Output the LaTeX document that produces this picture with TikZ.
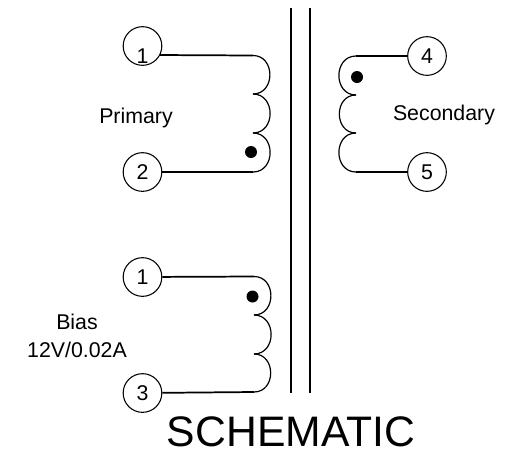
\documentclass[tikz,border=0pt]{standalone}
\usepackage{fontspec}
\setmainfont{Liberation Sans}
\usetikzlibrary{positioning}
\newcommand{\pinlow}[2]{\raisebox{#1}[0pt][0pt]{#2}}
\tikzset{
  pin/.style={circle,draw,line width=0.8pt,minimum size=29pt,inner sep=0pt,font=\fontsize{16}{16}\selectfont},
  lead/.style={line width=1.3pt},
  coil/.style={line width=0.9pt},
  core/.style={line width=1.6pt},
  spot/.style={circle,fill=black,minimum size=9pt,inner sep=0pt},
  lbl/.style={font=\fontsize{16}{21}\selectfont,align=center}
}

\begin{document}
\begin{tikzpicture}[x=0.75pt,y=-0.75pt]
  \useasboundingbox (0,0) rectangle (507,451);

  % core
  \coordinate (coreAtop) at (291,8);
  \coordinate (coreAbot) at (291,393);
  \coordinate (coreBtop) at (310,8);
  \coordinate (coreBbot) at (310,393);
  \draw [core] (coreAtop) -- (coreAbot);
  \draw [core] (coreBtop) -- (coreBbot);

  % primary
  \node [pin] (prim1) at (142.5,46) {\pinlow{-12.75pt}{1}};
  \node [pin] (prim2) at (142.5,172) {2};
  \coordinate (primA) at (253,55.5);
  \coordinate (primB) at (253,94);
  \coordinate (primC) at (253,133);
  \coordinate (primD) at (253,172);
  \draw [lead] (prim1.-27) -- (primA);
  \draw [lead] (prim2) -- (primD);
  \draw [coil] (primA) to [out=0,in=0,looseness=1.5] (primB);
  \draw [coil] (primB) to [out=0,in=0,looseness=1.5] (primC);
  \draw [coil] (primC) to [out=0,in=0,looseness=1.5] (primD);
  \node [spot] (primdot) at (251,152) {};
  \node [lbl] (primlbl) at (136,118) {Primary};

  % bias
  \node [pin] (bias1) at (142.5,277) {1};
  \node [pin] (bias3) at (142.5,393) {3};
  \coordinate (biasA) at (254,276.5);
  \coordinate (biasB) at (254,315);
  \coordinate (biasC) at (254,354);
  \coordinate (biasD) at (254,392);
  \draw [lead] (bias1) -- (biasA);
  \draw [lead] (bias3) -- (biasD);
  \draw [coil] (biasA) to [out=0,in=0,looseness=1.5] (biasB);
  \draw [coil] (biasB) to [out=0,in=0,looseness=1.5] (biasC);
  \draw [coil] (biasC) to [out=0,in=0,looseness=1.5] (biasD);
  \node [spot] (biasdot) at (252.5,296.5) {};
  \node [lbl] (biaslbl) at (77,336) {Bias\\12V/0.02A};

  % secondary
  \node [pin] (sec4) at (427,56) {4};
  \node [pin] (sec5) at (427,172) {5};
  \coordinate (secA) at (356,56);
  \coordinate (secB) at (356,95);
  \coordinate (secC) at (356,133);
  \coordinate (secD) at (356,172);
  \draw [lead] (sec4) -- (secA);
  \draw [lead] (sec5) -- (secD);
  \draw [coil] (secA) to [out=180,in=180,looseness=1.5] (secB);
  \draw [coil] (secB) to [out=180,in=180,looseness=1.5] (secC);
  \draw [coil] (secC) to [out=180,in=180,looseness=1.5] (secD);
  \node [spot] (secdot) at (357,77) {};
  \node [lbl] (seclbl) at (444,115) {Secondary};

  \node [font=\fontsize{32}{32}\selectfont,inner sep=0pt] (title) at (291,432) {SCHEMATIC};
\end{tikzpicture}
\end{document}
